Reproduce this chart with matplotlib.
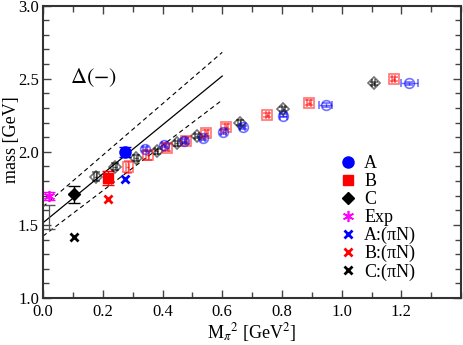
import numpy as np
import matplotlib
matplotlib.use("Agg")
import matplotlib.pyplot as plt
from matplotlib.lines import Line2D
from matplotlib.ticker import MultipleLocator

plt.rcParams['font.family'] = ['Liberation Serif', 'DejaVu Serif']
plt.rcParams['mathtext.fontset'] = 'stix'

# filled points (lowest mass point of each set)
a_x, a_y, a_e = [0.274], [2.000], [0.035]
b_x, b_y, b_e = [0.218], [1.820], [0.050]
c_x, c_y, c_e = [0.104], [1.710], [0.057]
exp_x, exp_y, exp_e = [0.021], [1.698], [0.030]

# pi N thresholds
an_x, an_y = [0.274], [1.814]
bn_x, bn_y = [0.218], [1.680]
cn_x, cn_y = [0.104], [1.416]

# open points
ao_x = [0.341, 0.405, 0.471, 0.536, 0.603, 0.669, 0.805, 0.946, 1.227]
ao_y = [2.020, 2.046, 2.074, 2.092, 2.137, 2.167, 2.247, 2.320, 2.468]
ao_xe = [0.006, 0.006, 0.006, 0.007, 0.008, 0.008, 0.012, 0.022, 0.028]
bo_x = [0.283, 0.350, 0.415, 0.480, 0.547, 0.614, 0.751, 0.890, 1.174]
bo_y = [1.898, 1.975, 2.028, 2.076, 2.126, 2.172, 2.252, 2.336, 2.498]
bo_ye = [0.040, 0.030, 0.025, 0.022, 0.020, 0.018, 0.015, 0.015, 0.015]
co_x = [0.176, 0.241, 0.311, 0.380, 0.447, 0.516, 0.658, 0.805, 1.107]
co_y = [1.830, 1.898, 1.958, 2.003, 2.058, 2.109, 2.199, 2.293, 2.468]
co_ye = [0.030, 0.025, 0.020, 0.018, 0.015, 0.015, 0.015, 0.015, 0.012]

# chiral extrapolation lines
fit_x = [0.0, 0.6]
fit_y = [1.515, 2.518]
fit_up = [1.625, 2.680]
fit_lo = [1.424, 2.354]
extr_x, extr_y, extr_e = [0.020], [1.554], [0.083]

x_ticks = [0.0, 0.2, 0.4, 0.6, 0.8, 1.0, 1.2]
y_ticks = [1.0, 1.5, 2.0, 2.5, 3.0]

fig = plt.figure(figsize=(4.63, 3.45), dpi=100)
ax = fig.add_axes([0.093, 0.136, 0.903, 0.848])

ax.plot(fit_x, fit_y, color='black', lw=0.9)
ax.plot(fit_x, fit_up, color='black', lw=0.8, ls=(0, (4, 3)))
ax.plot(fit_x, fit_lo, color='black', lw=0.8, ls=(0, (4, 3)))
ax.errorbar(extr_x, extr_y, yerr=extr_e, fmt='none', ecolor='#555555',
            elinewidth=0.9, capsize=4)

# open points, semi transparent
ax.errorbar(co_x, co_y, yerr=co_ye, xerr=0.006, fmt='D', ms=6, mfc='none',
            mec='black', mew=1.2, ecolor='black', elinewidth=1, capsize=3,
            alpha=0.55)
ax.errorbar(bo_x, bo_y, yerr=bo_ye, xerr=0.006, fmt='s', ms=7, mfc='none',
            mec='red', mew=1.2, ecolor='red', elinewidth=1, capsize=3,
            alpha=0.55)
ax.errorbar(ao_x, ao_y, yerr=0.012, xerr=ao_xe, fmt='o', ms=7, mfc='none',
            mec='blue', mew=1.2, ecolor='blue', elinewidth=1, capsize=3,
            alpha=0.55)

# filled points
ax.errorbar(a_x, a_y, yerr=a_e, fmt='o', ms=8, color='blue', ecolor='blue',
            elinewidth=1, capsize=4)
ax.errorbar(b_x, b_y, yerr=b_e, fmt='s', ms=7, color='red', ecolor='red',
            elinewidth=1, capsize=4)
ax.errorbar(c_x, c_y, yerr=c_e, fmt='D', ms=6, color='black', ecolor='black',
            elinewidth=1, capsize=4)
ax.errorbar(exp_x, exp_y, yerr=exp_e, fmt='none', ecolor='magenta',
            elinewidth=1, capsize=4)
star = (6, 2, 0)
ax.plot(exp_x, exp_y, ls='none', marker=star, ms=8, mew=1.2, color='magenta')
ax.plot(an_x, an_y, ls='none', marker='x', ms=5.5, mew=2, color='blue')
ax.plot(bn_x, bn_y, ls='none', marker='x', ms=5.5, mew=2, color='red')
ax.plot(cn_x, cn_y, ls='none', marker='x', ms=5.5, mew=2, color='black')

ax.text(0.17, 2.505, r'$\Delta(-)$', fontsize=16, ha='center', va='center')

leg_labels = ['A', 'B', 'C', 'Exp', 'A:(πN)', 'B:(πN)', 'C:(πN)']
leg_handles = [
    Line2D([], [], ls='none', marker='o', ms=8, color='blue'),
    Line2D([], [], ls='none', marker='s', ms=7, color='red'),
    Line2D([], [], ls='none', marker='D', ms=6, color='black'),
    Line2D([], [], ls='none', marker=star, ms=8, mew=1.2, color='magenta'),
    Line2D([], [], ls='none', marker='x', ms=5.5, mew=2, color='blue'),
    Line2D([], [], ls='none', marker='x', ms=5.5, mew=2, color='red'),
    Line2D([], [], ls='none', marker='x', ms=5.5, mew=2, color='black'),
]
ax.legend(leg_handles, leg_labels, loc='upper left',
          bbox_to_anchor=(0.732, 0.550), bbox_transform=fig.transFigure,
          frameon=False, fontsize=13, handletextpad=0.4, labelspacing=0.05,
          handlelength=1.0, borderpad=0, borderaxespad=0)

ax.set_xlim(0, 1.4)
ax.set_ylim(1.0, 3.0)
ax.set_xticks(x_ticks)
ax.set_xticklabels([f'{v:.1f}' for v in x_ticks])
ax.set_yticks(y_ticks)
ax.set_yticklabels([f'{v:.1f}' for v in y_ticks])
ax.xaxis.set_minor_locator(MultipleLocator(0.1))
ax.yaxis.set_minor_locator(MultipleLocator(0.1))
ax.tick_params(which='both', direction='in', top=True, right=True,
               labelsize=12, color='#444444')
ax.tick_params(axis='y', pad=3)
ax.tick_params(axis='x', pad=4)
ax.tick_params(which='major', length=6, width=1)
ax.tick_params(which='minor', length=4, width=1)
for s in ax.spines.values():
    s.set_linewidth(1.5)
    s.set_color('#333333')

ax.set_xlabel('M$_\\pi$$^2$ [GeV$^2$]', fontsize=13, labelpad=1)
ax.set_ylabel('mass [GeV]', fontsize=13)
ax.yaxis.set_label_coords(-0.056, 0.54)

fig.savefig('out.png', dpi=100)
